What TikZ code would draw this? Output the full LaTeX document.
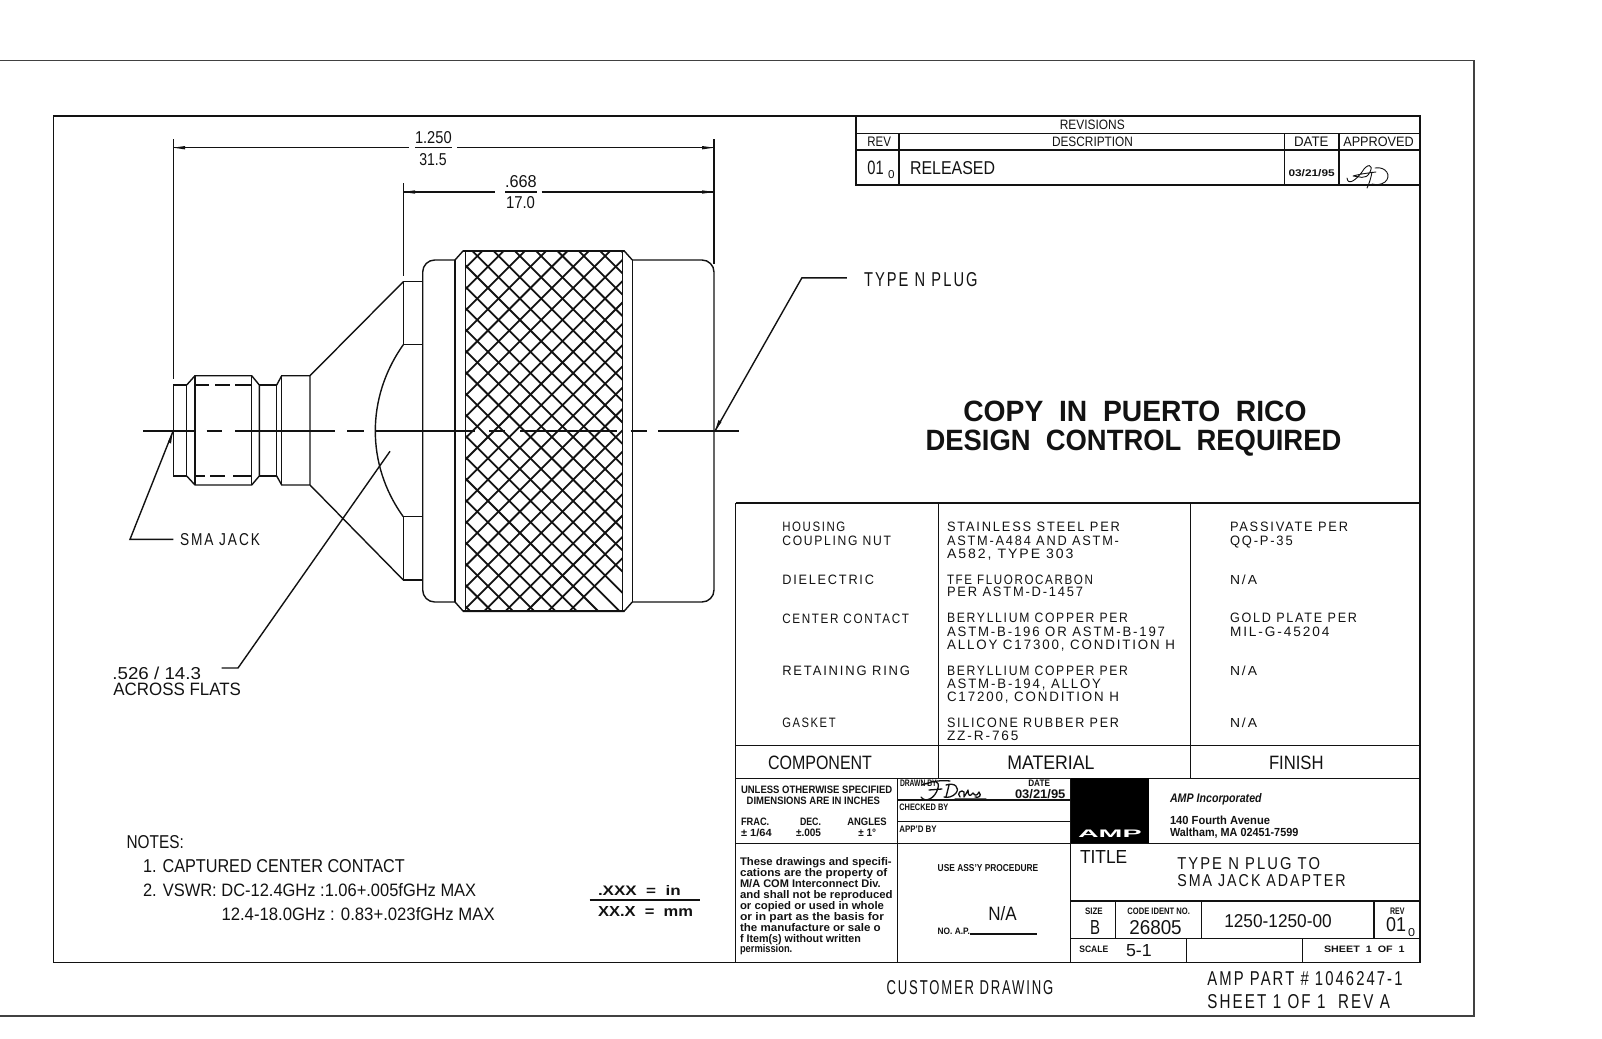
\documentclass[tikz,border=0pt]{standalone}
\usepackage{fontspec}
\usepackage{graphicx}
\setmainfont{Liberation Sans}
\newfontfamily\lsf[LetterSpace=14]{Liberation Sans}
\newcounter{tn}
% [font]{x left}{x right}{baseline}{height}{text}
\newcommand\TT[6][]{\stepcounter{tn}\pgfmathsetmacro\tww{#3-#2}%
  \node[anchor=base west,inner sep=0pt,outer sep=0pt,text=inkc] (t\thetn) at (#2,#4)
    {\resizebox{\tww pt}{#5pt}{#1#6}};}
\definecolor{inkc}{RGB}{18,18,18}
\tikzset{
  ln/.style={draw=inkc,line width=1.4pt},
  thin ln/.style={draw=inkc,line width=1.05pt},
  frameln/.style={draw=inkc,line width=1.6pt},
  sig/.style={draw=inkc,line width=0.9pt,line cap=round,line join=round},
  sigb/.style={draw=inkc,line width=1.3pt,line cap=round,line join=round},
  tipf/.style={fill=inkc,draw=none}
}
\begin{document}
\begin{tikzpicture}[x=1pt,y=-1pt]
\useasboundingbox (0,0) rectangle (1602,1038);
% outer frame
\draw[draw=inkc!80,line width=1.5pt] (0,60.7) -- (1474,60.7) -- (1474,1016) -- (0,1016);
% inner frame
\draw[frameln] (53.3,116) rectangle (1420,962.3);

% ---------- connector drawing
% extension lines
\draw[ln] (173.3,139) -- (173.3,379);
\draw[ln] (714,139) -- (714,264);
\draw[ln] (403.3,183.3) -- (403.3,275.7);
% dimension lines
\draw[ln] (173.3,147.7) -- (409.3,147.7) (415,147.7) -- (451.7,147.7) (457,147.7) -- (714,147.7);
\draw[ln] (403.3,192) -- (495,192) (505,192) -- (536.7,192) (541.7,192) -- (714,192);
\fill[tipf] (173.3,147.7) -- (185,146) -- (185,149.4) -- cycle;
\fill[tipf] (714,147.7) -- (702,146) -- (702,149.4) -- cycle;
\fill[tipf] (403.3,192) -- (415,190.3) -- (415,193.7) -- cycle;
\fill[tipf] (714,192) -- (702,190.3) -- (702,193.7) -- cycle;
\TT{415}{451.7}{143.3}{12}{1.250}
\TT{419.3}{446.7}{165}{12}{31.5}
\TT{505}{536.7}{187.3}{12}{.668}
\TT{506}{535}{208.3}{12}{17.0}

% centre line
\draw[ln] (143,431) -- (195,431) (206.7,431) -- (221.7,431) (235,431) -- (335,431)
  (347.3,431) -- (364.3,431) (375,431) -- (475,431) (489,431) -- (505,431)
  (520,431) -- (617,431) (630.7,431) -- (646.7,431) (658,431) -- (739,431);

% SMA end
\draw[ln] (173.3,385) -- (186.7,385) -- (186.7,476) -- (173.3,476) -- cycle;
\draw[ln] (186.7,385) -- (195,375.7) -- (251.7,375.7) -- (259.3,385) -- (259.3,476) -- (251.7,485) -- (195,485) -- (186.7,476);
\draw[ln] (195,375.7) -- (195,485) (251.7,375.7) -- (251.7,485);
\draw[ln] (259.3,385) -- (276.7,385) -- (276.7,476) -- (259.3,476);
\draw[ln] (276.7,385) -- (281.7,375.7) -- (310,375.7) -- (310,485) -- (281.7,485) -- (276.7,476);
\draw[ln] (281.7,375.7) -- (281.7,485);
\draw[ln] (195,385) -- (209,385) (215,385) -- (230,385) (235,385) -- (251.7,385);
\draw[ln] (195,476) -- (205,476) (210,476) -- (225,476) (233,476) -- (251.7,476);
% cone and flats
\draw[ln] (310,375.7) -- (403.3,281.7) (310,485) -- (403.3,580);
\draw[ln] (403.3,281.7) -- (422.7,281.7) (403.3,344.7) -- (422.7,344.7)
  (403.3,516.7) -- (422.7,516.7) (403.3,580) -- (422.7,580);
\draw[ln] (403.3,281.7) -- (403.3,344.7) (403.3,516.7) -- (403.3,580);
\draw[ln] (403.3,344.7) .. controls (384,372) and (375.3,402) .. (375.3,431)
  .. controls (375.3,460) and (384,490) .. (403.3,516.7);
% coupling body
\draw[ln,rounded corners=12pt] (455,260) -- (422.7,260) -- (422.7,602) -- (455,602);
\draw[ln,rounded corners=12pt] (632.3,260) -- (714,260) -- (714,602) -- (632.3,602);
\draw[ln] (455,260) -- (455,602) (632.3,260) -- (632.3,602);
\draw[ln] (455,260) -- (463.3,250.7) -- (624,250.7) -- (632.3,260);
\draw[ln] (455,602) -- (463.3,611.3) -- (624,611.3) -- (632.3,602);
\begin{scope}
\clip (465.7,250.7) rectangle (622.3,611.3);
\foreach \n in {-1,...,28}{
  \pgfmathsetmacro\cc{733.3+21.3*\n-21.3*7}
  \draw[draw=inkc,line width=1.8pt] (\cc-250.7,250.7) -- (\cc-611.3,611.3);
}
\foreach \n in {-18,...,14}{
  \pgfmathsetmacro\dd{221.3+21.3*\n}
  \draw[draw=inkc,line width=1.8pt] (\dd+250.7,250.7) -- (\dd+611.3,611.3);
}
\end{scope}
\draw[draw=inkc,line width=1.5pt] (465.7,250.7) -- (465.7,611.3) (622.3,250.7) -- (622.3,611.3);
\draw[draw=inkc,line width=1.8pt] (463.3,250.7) -- (624,250.7) (463.3,611.3) -- (624,611.3);

% leaders
\coordinate (tipN) at (715,431);
\coordinate (tipS) at (172.7,432);
\draw[ln] (846.8,277.8) -- (801.9,277.8) -- (tipN);
\fill[tipf] (tipN) -- (718.5,420) -- (721.5,422) -- cycle;
\TT[\lsf]{864}{977.6}{286}{14}{TYPE N PLUG}
\draw[ln] (173.3,539.3) -- (130,539.3) -- (tipS);
\fill[tipf] (tipS) -- (168,442) -- (171,443.5) -- cycle;
\TT[\lsf]{180}{260}{545.3}{12}{SMA JACK}
\draw[ln] (221.7,668) -- (238,668) -- (390,451.3);
\TT{112.4}{201}{679.3}{12.5}{.526 / 14.3}
\TT{113.4}{241}{695.7}{12.5}{ACROSS FLATS}

% notes
\TT{126.6}{183.8}{848.3}{13}{NOTES:}
\TT{143}{404.7}{872.7}{13}{1. CAPTURED CENTER CONTACT}
\TT{143}{476.2}{896}{13}{2. VSWR: DC-12.4GHz :1.06+.005fGHz MAX}
\TT{221.5}{494.7}{920}{13}{12.4-18.0GHz : 0.83+.023fGHz MAX}
\TT[\bfseries]{598}{680.7}{895}{10}{.XXX\ \ =\ \ in}
\TT[\bfseries]{598}{693}{916}{10}{XX.X\ \ =\ \ mm}
\draw[ln] (589.5,900) -- (700,900);

% ---------- revisions
\draw[ln] (856,115.7) -- (856,185) -- (1420,185);
\draw[ln] (856,115.7) -- (1420,115.7);
\draw[ln] (856,133.3) -- (1420,133.3) (856,150) -- (1420,150);
\draw[ln] (899,133.3) -- (899,185) (1284.5,133.3) -- (1284.5,185) (1339,133.3) -- (1339,185);
\TT{1059.8}{1124.8}{129.3}{9.5}{REVISIONS}
\TT{867.4}{891}{146.7}{9.5}{REV}
\TT{1052}{1133}{146.7}{9.5}{DESCRIPTION}
\TT{1294}{1328.5}{146.7}{9.5}{DATE}
\TT{1343.3}{1413.8}{146.7}{9.5}{APPROVED}
\TT{867.4}{883.7}{174.3}{13.5}{01}
\TT{888}{894.5}{178}{8}{0}
\TT{910}{995}{174.3}{13}{RELEASED}
\TT[\bfseries]{1288.5}{1334.7}{176}{7}{03/21/95}
% approval signature
\draw[sig] (1347,178) .. controls (1348,186) and (1356,180) .. (1362,172) .. controls (1367,163) and (1374,164) .. (1370,172)
  .. controls (1366,181) and (1358,176) .. (1353,176) .. controls (1360,174) and (1368,173) .. (1376,172)
  (1372,172) .. controls (1371,178) and (1369,184) .. (1367,188)
  (1375,168) .. controls (1386,166) and (1392,176) .. (1385,182) .. controls (1381,185) and (1376,185) .. (1372,184);

% ---------- big notice
\TT[\bfseries]{963.3}{1306.5}{421.9}{20.5}{COPY\ \ IN\ \ PUERTO\ \ RICO}
\TT[\bfseries]{925.5}{1341.3}{450.5}{20.5}{DESIGN\ \ CONTROL\ \ REQUIRED}

% ---------- materials table
\draw[ln] (735.5,503) -- (1420,503);
\draw[ln] (735.5,503) -- (735.5,962.3);
\draw[ln] (938.3,503) -- (938.3,778.3) (1190.3,503) -- (1190.3,778.3);
\draw[ln] (735.5,745.7) -- (1420,745.7) (735.5,778.3) -- (1420,778.3);
\TT[\lsf]{782.3}{845.4}{531.7}{9.5}{HOUSING}
\TT[\lsf]{782.3}{891}{545.3}{9.5}{COUPLING NUT}
\TT[\lsf]{782.3}{874}{584}{9.5}{DIELECTRIC}
\TT[\lsf]{782.3}{909}{623.3}{9.5}{CENTER CONTACT}
\TT[\lsf]{782.3}{910}{675}{9.5}{RETAINING RING}
\TT[\lsf]{782.3}{835.6}{727.7}{9.5}{GASKET}
\TT[\lsf]{947}{1120}{531.7}{9.5}{STAINLESS STEEL PER}
\TT[\lsf]{947}{1119}{545.3}{9.5}{ASTM-A484 AND ASTM-}
\TT[\lsf]{947}{1073.5}{558.3}{9.5}{A582, TYPE 303}
\TT[\lsf]{947}{1093}{584}{9.5}{TFE FLUOROCARBON}
\TT[\lsf]{947}{1083}{596.7}{9.5}{PER ASTM-D-1457}
\TT[\lsf]{947}{1128}{622.7}{9.5}{BERYLLIUM COPPER PER}
\TT[\lsf]{947}{1165}{636}{9.5}{ASTM-B-196 OR ASTM-B-197}
\TT[\lsf]{947}{1175}{649.3}{9.5}{ALLOY C17300, CONDITION H}
\TT[\lsf]{947}{1128}{675}{9.5}{BERYLLIUM COPPER PER}
\TT[\lsf]{947}{1101}{688.3}{9.5}{ASTM-B-194, ALLOY}
\TT[\lsf]{947}{1119}{701.7}{9.5}{C17200, CONDITION H}
\TT[\lsf]{947}{1119}{727.7}{9.5}{SILICONE RUBBER PER}
\TT[\lsf]{947}{1018.5}{740.7}{9.5}{ZZ-R-765}
\TT[\lsf]{1230}{1348}{531.7}{9.5}{PASSIVATE PER}
\TT[\lsf]{1230}{1292.7}{545.3}{9.5}{QQ-P-35}
\TT[\lsf]{1230}{1257}{584}{9.5}{N/A}
\TT[\lsf]{1230}{1357}{622.7}{9.5}{GOLD PLATE PER}
\TT[\lsf]{1230}{1329.4}{636}{9.5}{MIL-G-45204}
\TT[\lsf]{1230}{1257}{675}{9.5}{N/A}
\TT[\lsf]{1230}{1257}{727.7}{9.5}{N/A}
\TT{768}{872}{769.3}{13.5}{COMPONENT}
\TT{1007.3}{1094.5}{769.3}{13.5}{MATERIAL}
\TT{1269}{1323.6}{769.3}{13.5}{FINISH}

% ---------- title block
\draw[ln] (897.3,778.3) -- (897.3,962.3);
\draw[ln] (1070.7,778.3) -- (1070.7,962.3);
\draw[ln] (735.5,843.3) -- (1420,843.3);
\draw[ln] (897.3,800) -- (1070.7,800) (897.3,821.7) -- (1070.7,821.7);
\fill[fill=black] (1070.7,778.3) rectangle (1149.3,843.3);
\TT[\bfseries]{741}{892.3}{793.3}{7.5}{UNLESS OTHERWISE SPECIFIED}
\TT[\bfseries]{746.7}{880}{804.3}{7.5}{DIMENSIONS ARE IN INCHES}
\TT[\bfseries]{741}{769.3}{825}{7.5}{FRAC.}
\TT[\bfseries]{800}{821}{825}{7.5}{DEC.}
\TT[\bfseries]{847.3}{886.7}{825}{7.5}{ANGLES}
\TT[\bfseries]{741}{771.7}{836}{7.5}{± 1/64}
\TT[\bfseries]{796}{821}{836}{7.5}{±.005}
\TT[\bfseries]{858.3}{876}{836}{7.5}{± 1°}
\TT[\bfseries]{900}{936.7}{786.7}{6.5}{DRAWN BY}
\TT[\bfseries]{899.3}{948.3}{810}{6.5}{CHECKED BY}
\TT[\bfseries]{899.3}{936.7}{832.3}{6.5}{APP'D BY}
\TT[\bfseries]{1028.3}{1050}{786.7}{6.5}{DATE}
\TT[\bfseries]{1015}{1065.4}{798.3}{9}{03/21/95}
% drawn-by signature
\draw[sigb] (921,797) .. controls (925,803) and (935,799) .. (938,788) .. controls (940,780) and (933,780) .. (927,784)
  (922,785) .. controls (932,781) and (942,780) .. (950,781)
  (929,790) -- (942,789)
  (946,785) .. controls (955,782) and (960,788) .. (956,793) .. controls (953,797) and (947,798) .. (944,797)
  (949,785) -- (946,797)
  (960,797) .. controls (956,793) and (962,789) .. (964,792) -- (964,797) .. controls (966,794) and (967,792) .. (968,790)
  .. controls (968,796) and (970,797) .. (973,793) .. controls (975,796) and (977,796) .. (979,792) .. controls (982,796) and (979,798) .. (975,797)
  (955,799) -- (986,799);
\TT[\bfseries]{740}{891.7}{865.7}{8}{These drawings and specifi-}
\TT[\bfseries]{740}{887.3}{876.7}{8}{cations are the property of}
\TT[\bfseries]{740}{880.7}{887.7}{8}{M/A COM Interconnect Div.}
\TT[\bfseries]{740}{892.7}{898.3}{8}{and shall not be reproduced}
\TT[\bfseries]{740}{884}{909.3}{8}{or copied or used in whole}
\TT[\bfseries]{740}{884}{920}{8}{or in part as the basis for}
\TT[\bfseries]{740}{880.7}{931}{8}{the manufacture or sale o}
\TT[\bfseries]{740}{861}{942}{8}{f Item(s) without written}
\TT[\bfseries]{740}{792.3}{952.3}{8}{permission.}
\TT[\bfseries]{937.7}{1038.3}{871}{7}{USE ASS'Y PROCEDURE}
\TT{988.3}{1016.7}{920}{14}{N/A}
\TT[\bfseries]{937.7}{970}{934}{6.5}{NO. A.P.}
\draw[thin ln] (970,934) -- (1036.7,934);
\TT[\bfseries\color{white}]{1078}{1141.7}{837}{7.5}{AMP}
\TT[\bfseries\itshape]{1170}{1261.7}{802.7}{9}{AMP Incorporated}
\TT[\bfseries]{1170}{1270}{824}{8.5}{140 Fourth Avenue}
\TT[\bfseries]{1170}{1298.3}{836}{8.5}{Waltham, MA 02451-7599}
\TT{1080}{1127.3}{863.3}{13}{TITLE}
\TT[\lsf]{1177.3}{1320}{869}{12}{TYPE N PLUG TO}
\TT[\lsf]{1177.3}{1345.7}{886}{12}{SMA JACK ADAPTER}
\draw[ln] (1070.7,901) -- (1420,901) (1070.7,938.7) -- (1420,938.7);
\draw[ln] (1115.3,901) -- (1115.3,938.7) (1201.3,901) -- (1201.3,938.7) (1374,901) -- (1374,938.7);
\draw[ln] (1186.7,938.7) -- (1186.7,962.3) (1302.3,938.7) -- (1302.3,962.3);
\TT[\bfseries]{1085}{1102.7}{914}{6.5}{SIZE}
\TT{1090}{1100}{934}{14}{B}
\TT[\bfseries]{1127.3}{1190}{914}{6.5}{CODE IDENT NO.}
\TT{1129.3}{1181.7}{934}{14}{26805}
\TT{1224.3}{1331.7}{927.7}{13}{1250-1250-00}
\TT[\bfseries]{1390}{1404.5}{914}{6.5}{REV}
\TT{1386}{1406}{931}{14}{01}
\TT{1408}{1415}{936}{8}{0}
\TT[\bfseries]{1079.3}{1108.3}{952}{6.5}{SCALE}
\TT{1126}{1151.7}{956}{12}{5-1}
\TT[\bfseries]{1324}{1404.6}{952}{6.5}{SHEET\ \ 1\ \ OF\ \ 1}
% below frame
\TT[\lsf]{886.7}{1053.2}{994}{14}{CUSTOMER DRAWING}
\TT[\lsf]{1207.4}{1402.5}{985.8}{14}{AMP PART \# 1046247-1}
\TT[\lsf]{1207.4}{1390}{1008}{14}{SHEET 1 OF 1\ \ REV A}
\end{tikzpicture}
\end{document}
